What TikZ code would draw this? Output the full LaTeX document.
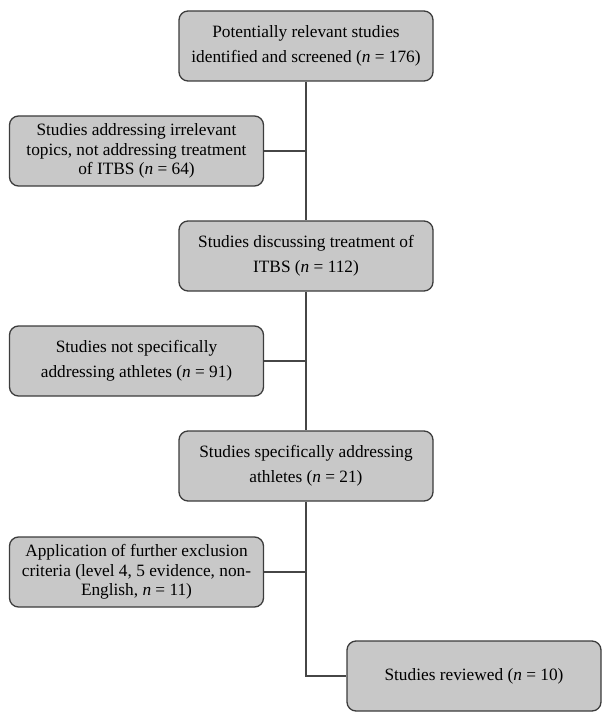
\documentclass[tikz,border=0pt]{standalone}
\usepackage{fontspec}
\setmainfont{Liberation Serif}
\definecolor{boxfill}{RGB}{200,200,200}
\definecolor{boxdraw}{RGB}{60,60,60}
\definecolor{linecol}{RGB}{70,70,70}
\begin{document}
\begin{tikzpicture}[x=1pt,y=-1pt,
  flowbox/.style={draw=boxdraw, fill=boxfill, line width=1.3pt, rounded corners=9pt,
    minimum width=254pt, minimum height=70pt, inner sep=0pt, align=center,
    font=\fontsize{17.3}{25}\selectfont},
  threeline/.style={font=\fontsize{17.3}{19.5}\selectfont},
  conn/.style={draw=linecol, line width=1.3pt}]
\useasboundingbox (0,0) rectangle (611,722);
\node[flowbox] (b1) at (306,46) {Potentially relevant studies\\identified and screened (\textit{n} = 176)};
\node[flowbox,threeline] (b2) at (136.5,151) {Studies addressing irrelevant\\topics, not addressing treatment\\of ITBS (\textit{n} = 64)};
\node[flowbox] (b3) at (306,256) {Studies discussing treatment of\\ITBS (\textit{n} = 112)};
\node[flowbox] (b4) at (136.5,361) {Studies not specifically\\addressing athletes (\textit{n} = 91)};
\node[flowbox] (b5) at (306,466) {Studies specifically addressing\\athletes (\textit{n} = 21)};
\node[flowbox,threeline] (b6) at (136.5,572) {Application of further exclusion\\criteria (level 4, 5 evidence, non-\\English, \textit{n} = 11)};
\node[flowbox] (b7) at (474,676) {Studies reviewed (\textit{n} = 10)};
\coordinate (j1) at (306,151);
\coordinate (j2) at (306,361);
\coordinate (j3) at (306,572);
\draw[conn] (b1.south) -- (b3.north);
\draw[conn] (b3.south) -- (b5.north);
\draw[conn] (b5.south) |- (b7.west);
\draw[conn] (b2.east) -- (j1);
\draw[conn] (b4.east) -- (j2);
\draw[conn] (b6.east) -- (j3);
\end{tikzpicture}
\end{document}
